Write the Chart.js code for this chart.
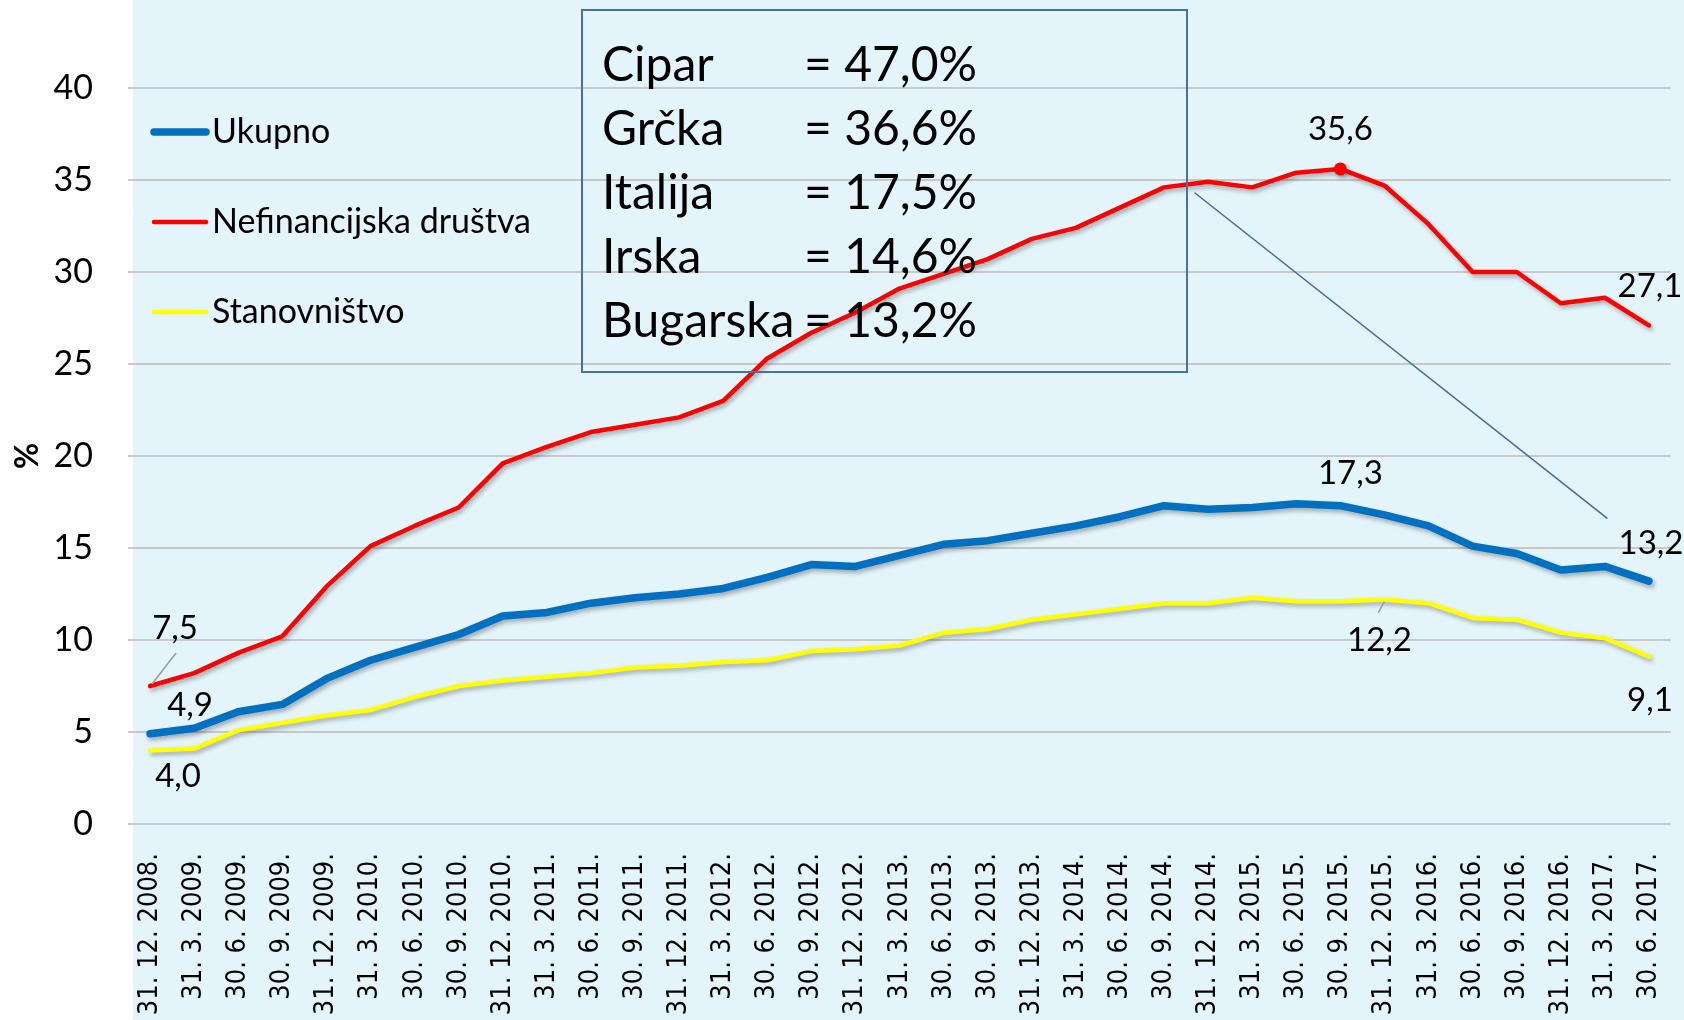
<!DOCTYPE html>
<html>
<head>
<meta charset="utf-8">
<script src="https://cdn.jsdelivr.net/npm/chart.js@4.4.0/dist/chart.umd.min.js"></script>
<style>
  html, body { margin: 0; padding: 0; background: #fff; overflow: hidden; }
</style>
</head>
<body>
<canvas id="chart" width="1684" height="1020"></canvas>
<script>
// quarter-end dates
const dates = [
  '31. 12. 2008.', '31. 3. 2009.', '30. 6. 2009.', '30. 9. 2009.', '31. 12. 2009.',
  '31. 3. 2010.', '30. 6. 2010.', '30. 9. 2010.', '31. 12. 2010.',
  '31. 3. 2011.', '30. 6. 2011.', '30. 9. 2011.', '31. 12. 2011.',
  '31. 3. 2012.', '30. 6. 2012.', '30. 9. 2012.', '31. 12. 2012.',
  '31. 3. 2013.', '30. 6. 2013.', '30. 9. 2013.', '31. 12. 2013.',
  '31. 3. 2014.', '30. 6. 2014.', '30. 9. 2014.', '31. 12. 2014.',
  '31. 3. 2015.', '30. 6. 2015.', '30. 9. 2015.', '31. 12. 2015.',
  '31. 3. 2016.', '30. 6. 2016.', '30. 9. 2016.', '31. 12. 2016.',
  '31. 3. 2017.', '30. 6. 2017.'
];

const ukupno = [4.9, 5.2, 6.1, 6.5, 7.9, 8.9, 9.6, 10.3, 11.3, 11.5, 12.0, 12.3, 12.5, 12.8, 13.4,
  14.1, 14.0, 14.6, 15.2, 15.4, 15.8, 16.2, 16.7, 17.3, 17.1, 17.2, 17.4, 17.3, 16.8, 16.2,
  15.1, 14.7, 13.8, 14.0, 13.2];
const nefinancijska = [7.5, 8.2, 9.3, 10.2, 12.9, 15.1, 16.2, 17.2, 19.6, 20.5, 21.3, 21.7, 22.1, 23.0, 25.3,
  26.7, 27.8, 29.1, 29.9, 30.7, 31.8, 32.4, 33.5, 34.6, 34.9, 34.6, 35.4, 35.6, 34.7, 32.6,
  30.0, 30.0, 28.3, 28.6, 27.1];
const stanovnistvo = [4.0, 4.1, 5.1, 5.5, 5.9, 6.2, 6.9, 7.5, 7.8, 8.0, 8.2, 8.5, 8.6, 8.8, 8.9,
  9.4, 9.5, 9.7, 10.4, 10.6, 11.1, 11.4, 11.7, 12.0, 12.0, 12.3, 12.1, 12.1, 12.2, 12.0,
  11.2, 11.1, 10.4, 10.1, 9.1];

const seriesNames = ['Ukupno', 'Nefinancijska društva', 'Stanovništvo'];

// text box with country values
const boxCountries = ['Cipar', 'Grčka', 'Italija', 'Irska', 'Bugarska'];
const boxValues = ['47,0%', '36,6%', '17,5%', '14,6%', '13,2%'];

const peakIdx = nefinancijska.indexOf(Math.max(...nefinancijska));

const FONT = 'Lato, "Open Sans", sans-serif';

// which points get a value label: [dataset, index, dx, dy, leader]
const labelSpots = [
  [0, 0, 40, -28], [0, 27, 10, -32], [0, 34, 2, -38],
  [1, 0, 25, -58, [2, -2, 26, -33]], [1, peakIdx, 0, -40], [1, 34, 1, -39],
  [2, 0, 28, 26], [2, 28, -5, 41, [0, 2, -6, 13]], [2, 34, 1, 44]
];

const fmt = v => v.toFixed(1).replace('.', ',');

const bgPlugin = {
  id: 'bg',
  beforeDraw(chart) {
    const ctx = chart.ctx;
    ctx.save();
    ctx.fillStyle = '#ffffff';
    ctx.fillRect(0, 0, chart.width, chart.height);
    ctx.fillStyle = '#e3f4fb';
    ctx.fillRect(chart.chartArea.left + 5, 0, chart.width, chart.height);
    ctx.restore();
  }
};

const shadowPlugin = {
  id: 'lineShadow',
  beforeDatasetDraw(chart) {
    const ctx = chart.ctx;
    ctx.save();
    ctx.shadowColor = 'rgba(40,40,40,0.35)';
    ctx.shadowBlur = 4;
    ctx.shadowOffsetX = 2;
    ctx.shadowOffsetY = 3;
  },
  afterDatasetDraw(chart) {
    chart.ctx.restore();
  }
};

const extrasPlugin = {
  id: 'extras',
  afterDatasetsDraw(chart) {
    const ctx = chart.ctx;
    const area = chart.chartArea;
    const xs = chart.scales.x, ys = chart.scales.y;
    ctx.save();

    // value labels
    ctx.font = '33px ' + FONT;
    ctx.fillStyle = '#000';
    ctx.textAlign = 'center';
    ctx.textBaseline = 'middle';
    labelSpots.forEach(([ds, i, dx, dy, leader]) => {
      const v = chart.data.datasets[ds].data[i];
      const px = xs.getPixelForValue(i);
      const py = ys.getPixelForValue(v);
      ctx.fillText(fmt(v), px + dx, py + dy);
      if (leader) {
        ctx.strokeStyle = '#9a9a9a';
        ctx.lineWidth = 1.5;
        ctx.beginPath();
        ctx.moveTo(px + leader[0], py + leader[1]);
        ctx.lineTo(px + leader[2], py + leader[3]);
        ctx.stroke();
      }
    });

    // legend inside the plot
    ctx.textAlign = 'left';
    ctx.font = '34px ' + FONT;
    chart.data.datasets.forEach((d, k) => {
      const y = area.top + 44 + k * 90;
      ctx.strokeStyle = d.borderColor;
      ctx.lineWidth = d.borderWidth;
      ctx.lineCap = 'round';
      ctx.beginPath();
      ctx.moveTo(area.left + 26, y);
      ctx.lineTo(area.left + 78, y);
      ctx.stroke();
      ctx.fillStyle = '#000';
      ctx.fillText(d.label, area.left + 84, y);
    });

    // box with country values
    const bx = 582, by = 10, bw = 605, bh = 362;
    ctx.strokeStyle = '#4a70a0';
    ctx.lineWidth = 2;
    ctx.strokeRect(bx, by, bw, bh);
    ctx.font = '48px ' + FONT;
    ctx.textBaseline = 'alphabetic';
    boxCountries.forEach((c, k) => {
      const y = by + 71 + k * 64;
      ctx.fillText(c, bx + 20, y);
      ctx.fillText('= ' + boxValues[k], bx + 222, y);
    });

    // pointer from the box to the last Ukupno value label
    const last = ukupno.length - 1;
    ctx.strokeStyle = '#44699a';
    ctx.lineWidth = 1.5;
    ctx.beginPath();
    ctx.moveTo(bx + bw + 8, 193);
    ctx.lineTo(xs.getPixelForValue(last) - 42, ys.getPixelForValue(ukupno[last]) - 63);
    ctx.stroke();
    ctx.restore();
  }
};

new Chart(document.getElementById('chart'), {
  type: 'line',
  data: {
    labels: dates,
    datasets: [
      {
        label: seriesNames[0], data: ukupno,
        borderColor: '#0070c0', borderWidth: 7.5, pointRadius: 0
      },
      {
        label: seriesNames[1], data: nefinancijska,
        borderColor: '#ff0000', borderWidth: 4.5,
        backgroundColor: '#ff0000',
        pointRadius: c => c.dataIndex === peakIdx ? 6.5 : 0,
        pointBorderWidth: 0
      },
      {
        label: seriesNames[2], data: stanovnistvo,
        borderColor: '#ffff00', borderWidth: 4.5, pointRadius: 0
      }
    ]
  },
  options: {
    responsive: false,
    animation: false,
    devicePixelRatio: 1,
    layout: { padding: { top: 88, right: 13, left: 0, bottom: 0 } },
    elements: { line: { tension: 0, borderCapStyle: 'round', borderJoinStyle: 'round' } },
    plugins: { legend: { display: false }, tooltip: { enabled: false } },
    scales: {
      x: {
        offset: true,
        grid: { display: false, drawTicks: false },
        border: { display: false },
        ticks: {
          autoSkip: false, minRotation: 90, maxRotation: 90, padding: 29,
          color: '#000',
          font: { family: '"DejaVu Sans Condensed", "DejaVu Sans", sans-serif', size: 27 }
        },
        afterFit: s => { s.height = 196; s.paddingLeft = 0; s.paddingRight = 0; }
      },
      y: {
        min: 0, max: 40,
        grid: { color: '#c8c8c8', lineWidth: 2, drawTicks: false },
        border: { display: false },
        ticks: {
          stepSize: 5, padding: 35, color: '#000',
          font: { family: FONT, size: 34 }
        },
        title: {
          display: true, text: '%', color: '#000',
          font: { family: FONT, size: 32, weight: 'bold' },
          padding: { top: 8, bottom: 0 }
        },
        afterFit: s => { s.width = 128; }
      }
    }
  },
  plugins: [bgPlugin, shadowPlugin, extrasPlugin]
});
</script>
</body>
</html>
